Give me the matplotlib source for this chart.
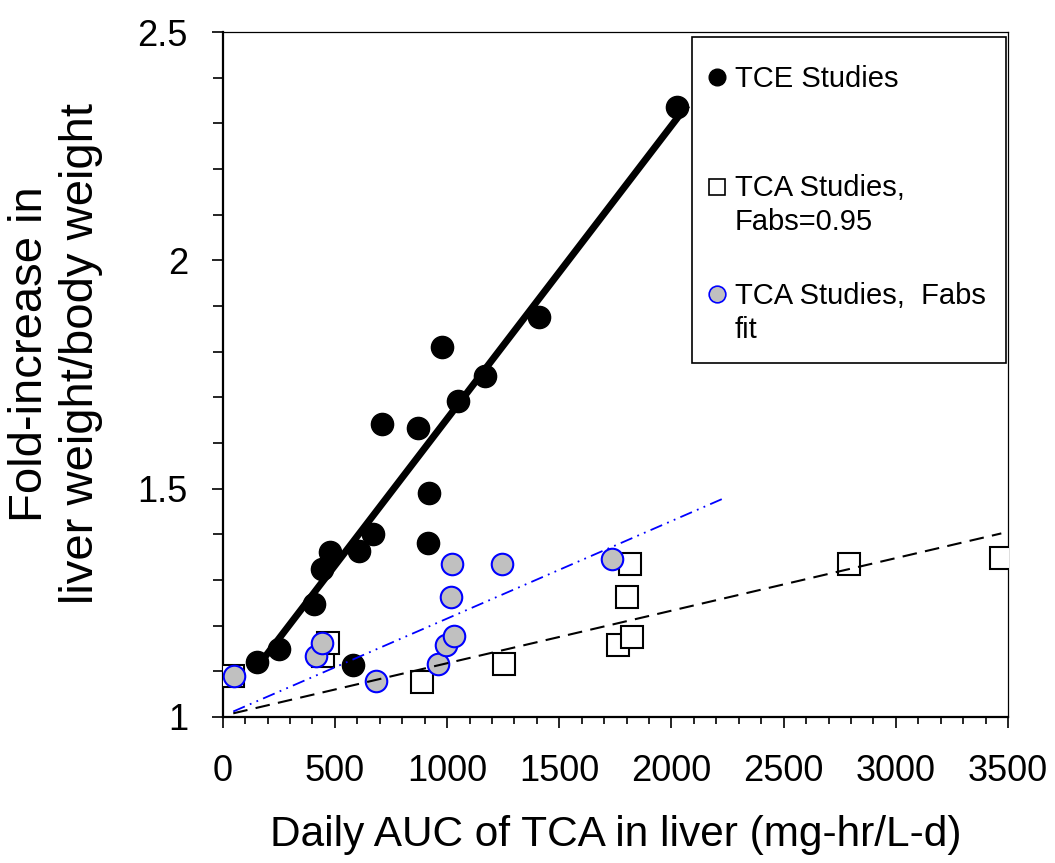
import matplotlib
matplotlib.use('Agg')
import matplotlib.pyplot as plt
from matplotlib.patches import Rectangle
from matplotlib.ticker import MultipleLocator

plt.rcParams['font.family'] = ['Liberation Sans', 'DejaVu Sans']

# TCE studies (filled black circles)
tce_x = [152, 252, 407, 441, 478, 582, 609, 671, 711, 872, 913, 919, 976, 1047, 1169, 1410, 2025]
tce_y = [1.120, 1.149, 1.247, 1.325, 1.361, 1.114, 1.364, 1.400, 1.641, 1.633, 1.381, 1.491,
         1.810, 1.692, 1.747, 1.876, 2.335]

# TCA studies, Fabs=0.95 (open squares)
tca_x = [47, 448, 471, 887, 1255, 1760, 1800, 1815, 1825, 2792, 3468]
tca_y = [1.090, 1.133, 1.161, 1.077, 1.117, 1.158, 1.263, 1.334, 1.176, 1.334, 1.348]

# TCA studies, Fabs fit (grey circles, blue edge)
fit_x = [52, 416, 441, 682, 958, 994, 1016, 1023, 1031, 1246, 1736]
fit_y = [1.090, 1.134, 1.162, 1.079, 1.117, 1.158, 1.263, 1.335, 1.177, 1.335, 1.346]

# trend lines (end points)
tce_line_x = [150, 2070]
tce_line_y = [1.107, 2.340]
tca_line_x = [47, 3470]
tca_line_y = [1.008, 1.402]
fit_line_x = [47, 2243]
fit_line_y = [1.012, 1.481]

legend_labels = ['TCE Studies', 'TCA Studies,\nFabs=0.95', 'TCA Studies,  Fabs\nfit']

fig = plt.figure(figsize=(10.55, 8.63), dpi=100)
ax = fig.add_axes([0.2111, 0.1692, 0.7444, 0.7937])

ax.plot(tca_x, tca_y, ls='none', marker='s', ms=15.5, mfc='white', mec='black', mew=1.5, zorder=3)
ax.plot(fit_x, fit_y, ls='none', marker='o', ms=15.5, mfc='#c0c0c0', mec='#0000ff', mew=1.5, zorder=4)
ax.plot(tce_x, tce_y, ls='none', marker='o', ms=16, mfc='black', mec='black', zorder=5)

ax.plot(tce_line_x, tce_line_y, color='black', lw=5, solid_capstyle='butt', zorder=6)
ax.plot(tca_line_x, tca_line_y, color='black', lw=1.5, ls=(0, (7, 4)), zorder=6)
ax.plot(fit_line_x, fit_line_y, color='#0000ff', lw=1.3, ls=(0, (7, 3, 1, 3, 1, 3)), zorder=6)

ax.set_xlim(0, 3500)
ax.set_ylim(1, 2.5)
ax.xaxis.set_major_locator(MultipleLocator(500))
ax.xaxis.set_minor_locator(MultipleLocator(100))
ax.yaxis.set_major_locator(MultipleLocator(0.5))
ax.yaxis.set_minor_locator(MultipleLocator(0.1))
ax.set_yticks([1, 1.5, 2, 2.5])
ax.set_yticklabels(['1', '1.5', '2', '2.5'])

ax.tick_params(axis='x', which='major', direction='out', length=8, width=1.2, labelsize=26, pad=19)
ax.tick_params(axis='x', which='minor', direction='out', length=5, width=1.2)
ax.tick_params(axis='y', which='major', direction='out', length=8, width=1.2, labelsize=26, pad=17)
ax.tick_params(axis='y', which='minor', direction='out', length=7, width=1.2)

for s in ['left', 'bottom']:
    ax.spines[s].set_linewidth(1.6)
for s in ['top', 'right']:
    ax.spines[s].set_linewidth(0.9)

ax.set_xlabel('Daily AUC of TCA in liver (mg-hr/L-d)', fontsize=30.5)
ax.xaxis.set_label_coords(0.5, -0.1425)
ax.set_ylabel('Fold-increase in\nliver weight/body weight', fontsize=34, linespacing=1.22)
ax.yaxis.set_label_coords(-0.152, 0.53)

# legend box drawn by hand to keep the spacing of the original
ax.add_patch(Rectangle((0.598, 0.517), 0.400, 0.475, transform=ax.transAxes,
                       fill=False, ec='black', lw=1.2, zorder=7))
key_styles = [dict(marker='o', mfc='black', mec='black', mew=1),
              dict(marker='s', mfc='white', mec='black', mew=1.2),
              dict(marker='o', mfc='#c0c0c0', mec='#0000ff', mew=1.2)]
key_y = [0.935, 0.774, 0.618]
text_y = [0.952, 0.793, 0.635]
for lab, st, ky, ty in zip(legend_labels, key_styles, key_y, text_y):
    ax.plot([0.630], [ky], ls='none', ms=12, transform=ax.transAxes, clip_on=False, zorder=8, **st)
    ax.text(0.652, ty, lab, transform=ax.transAxes, fontsize=21, va='top', ha='left',
            linespacing=1.27, zorder=8)

fig.savefig('out.png', dpi=100)
